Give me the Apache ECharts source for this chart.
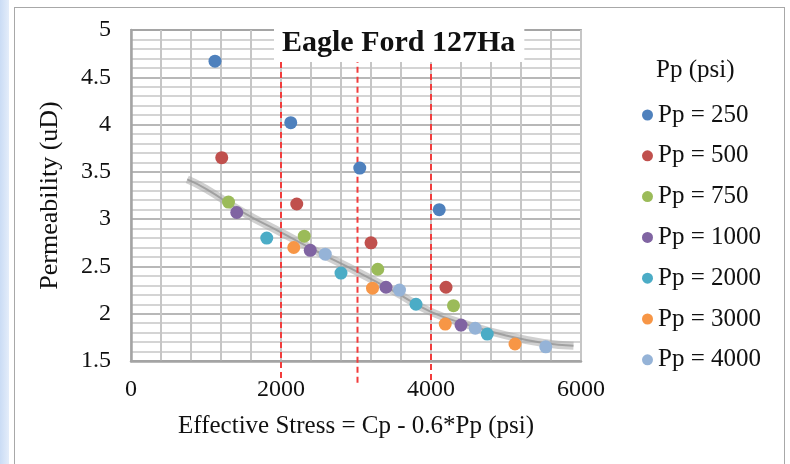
<!DOCTYPE html>
<html>
<head>
<meta charset="utf-8">
<title>Eagle Ford 127Ha</title>
<script src="https://cdn.jsdelivr.net/npm/echarts@6/dist/echarts.min.js"></script>
<style>
  html, body { margin: 0; padding: 0; width: 790px; height: 464px; overflow: hidden; background: #fff; }
  #strip { position: absolute; left: 0; top: 0; width: 9px; height: 464px;
           background: linear-gradient(to right, #cadcf5, #e4edfa); }
  #frame { position: absolute; left: 14px; top: 7px; width: 771px; height: 480px;
           border: 1.5px solid #a8a8a8; box-sizing: border-box; }
  #chart { position: absolute; left: 0; top: 0; width: 790px; height: 464px; }
</style>
</head>
<body>
<div id="strip"></div>
<div id="frame"></div>
<div id="chart"></div>
<script>
// Pore-pressure groups (legend names)
const ppNames = ['Pp = 250', 'Pp = 500', 'Pp = 750', 'Pp = 1000', 'Pp = 2000', 'Pp = 3000', 'Pp = 4000'];
const ppColors = ['#4f81bd', '#c0504d', '#9bbb59', '#8064a2', '#4bacc6', '#f79646', '#95b3d7'];

// Effective stress (psi) and permeability (uD) for each group
const stress250 = [1120, 2130, 3050, 4110];
const perm250 = [4.67, 4.02, 3.54, 3.10];
const stress500 = [1210, 2210, 3200, 4200];
const perm500 = [3.65, 3.16, 2.75, 2.28];
const stress750 = [1300, 2310, 3290, 4300];
const perm750 = [3.18, 2.82, 2.47, 2.085];
const stress1000 = [1410, 2390, 3400, 4400];
const perm1000 = [3.07, 2.67, 2.28, 1.88];
const stress2000 = [1810, 2800, 3800, 4750];
const perm2000 = [2.80, 2.43, 2.10, 1.785];
const stress3000 = [2170, 3220, 4190, 5120];
const perm3000 = [2.70, 2.27, 1.89, 1.68];
const stress4000 = [2590, 3580, 4590, 5530];
const perm4000 = [2.63, 2.25, 1.846, 1.65];

// Overall trend through all groups
const trendStress = [750, 1000, 1500, 2000, 2500, 3000, 3500, 4000, 4500, 5000, 5500, 5900];
const trendPerm = [3.42, 3.32, 3.07, 2.86, 2.65, 2.45, 2.24, 2.02, 1.88, 1.77, 1.69, 1.66];

// Reference stress levels (red dashed markers)
const refStress = [2000, 3020, 4000];
const refTop = 4.75;
const refBottom = [1.32, 1.27, 1.30];

// Axis ranges
const xTicks = { min: 0, max: 6000, step: 2000 };
const yTicks = { min: 1.5, max: 5, step: 0.5 };

const groupStress = [stress250, stress500, stress750, stress1000, stress2000, stress3000, stress4000];
const groupPerm = [perm250, perm500, perm750, perm1000, perm2000, perm3000, perm4000];

const serif = '"Liberation Serif", "Times New Roman", serif';
const ink = '#111';

const series = [];

series.push({
  type: 'line',
  name: 'trend',
  data: trendStress.map((s, i) => [s, trendPerm[i]]),
  smooth: true,
  symbol: 'none',
  silent: true,
  z: 1,
  lineStyle: { color: 'rgba(170,170,170,0.55)', width: 8 }
});
series.push({
  type: 'line',
  name: 'trend-core',
  data: trendStress.map((s, i) => [s, trendPerm[i]]),
  smooth: true,
  symbol: 'none',
  silent: true,
  z: 1,
  lineStyle: { color: 'rgba(150,150,150,0.8)', width: 2 }
});

refStress.forEach((s, i) => {
  series.push({
    type: 'line',
    name: 'ref' + i,
    data: [[s, refBottom[i]], [s, refTop]],
    symbol: 'none',
    silent: true,
    clip: false,
    z: 2,
    lineStyle: { color: '#f23c3c', width: 2, type: [6, 4] }
  });
});

ppNames.forEach((name, g) => {
  series.push({
    type: 'scatter',
    name: name,
    data: groupStress[g].map((s, i) => [s, groupPerm[g][i]]),
    symbol: 'circle',
    symbolSize: 13,
    z: 3,
    itemStyle: { color: ppColors[g], opacity: 1 }
  });
});

const option = {
  animation: false,
  backgroundColor: 'transparent',
  color: ppColors,
  title: [
    {
      text: 'Eagle Ford 127Ha',
      left: 274,
      top: 24,
      padding: [4, 9, 4, 8],
      backgroundColor: '#ffffff',
      textStyle: { fontFamily: serif, fontWeight: 'bold', fontSize: 30, lineHeight: 30, color: ink }
    },
    {
      text: 'Pp (psi)',
      left: 656,
      top: 55,
      padding: 0,
      textStyle: { fontFamily: serif, fontWeight: 'normal', fontSize: 25, lineHeight: 30, color: ink }
    }
  ],
  legend: {
    data: ppNames,
    orient: 'vertical',
    left: 642,
    top: 100,
    padding: 0,
    icon: 'circle',
    itemWidth: 11,
    itemHeight: 11,
    itemGap: 10.8,
    textStyle: { fontFamily: serif, fontSize: 25, lineHeight: 30, color: ink }
  },
  grid: {
    left: 131, right: 209, top: 30, bottom: 103,
    show: true, borderColor: '#b2b2b2', borderWidth: 2
  },
  xAxis: {
    type: 'value',
    min: xTicks.min, max: xTicks.max, interval: xTicks.step,
    name: 'Effective Stress = Cp - 0.6*Pp (psi)',
    nameLocation: 'middle',
    nameGap: 53,
    nameTextStyle: { fontFamily: serif, fontSize: 25, color: ink },
    axisLine: { show: true, onZero: false, lineStyle: { color: '#a4a4a4', width: 2.5 } },
    axisTick: { show: false },
    axisLabel: { margin: 17, fontFamily: serif, fontSize: 24, color: ink, formatter: (v) => String(v) },
    splitLine: { show: true, lineStyle: { color: '#c6c6c6', width: 2 } },
    minorTick: { show: false, splitNumber: 5 },
    minorSplitLine: { show: true, lineStyle: { color: '#c6c6c6', width: 2 } }
  },
  yAxis: {
    type: 'value',
    min: yTicks.min, max: yTicks.max, interval: yTicks.step,
    name: 'Permeability (uD)',
    nameLocation: 'middle',
    nameGap: 68,
    nameTextStyle: { fontFamily: serif, fontSize: 26, color: ink },
    axisLine: { show: true, onZero: false, lineStyle: { color: '#a4a4a4', width: 2.5 } },
    axisTick: { show: false },
    axisLabel: { margin: 20, fontFamily: serif, fontSize: 24, color: ink, formatter: (v) => String(v) },
    splitLine: { show: true, lineStyle: { color: '#a0a0a0', width: 1.5 } },
    minorTick: { show: false, splitNumber: 5 },
    minorSplitLine: { show: true, lineStyle: { color: '#d4d4d4', width: 2 } }
  },
  series: series
};

const chart = echarts.init(document.getElementById('chart'), null, { renderer: 'canvas' });
chart.setOption(option);
</script>
</body>
</html>
